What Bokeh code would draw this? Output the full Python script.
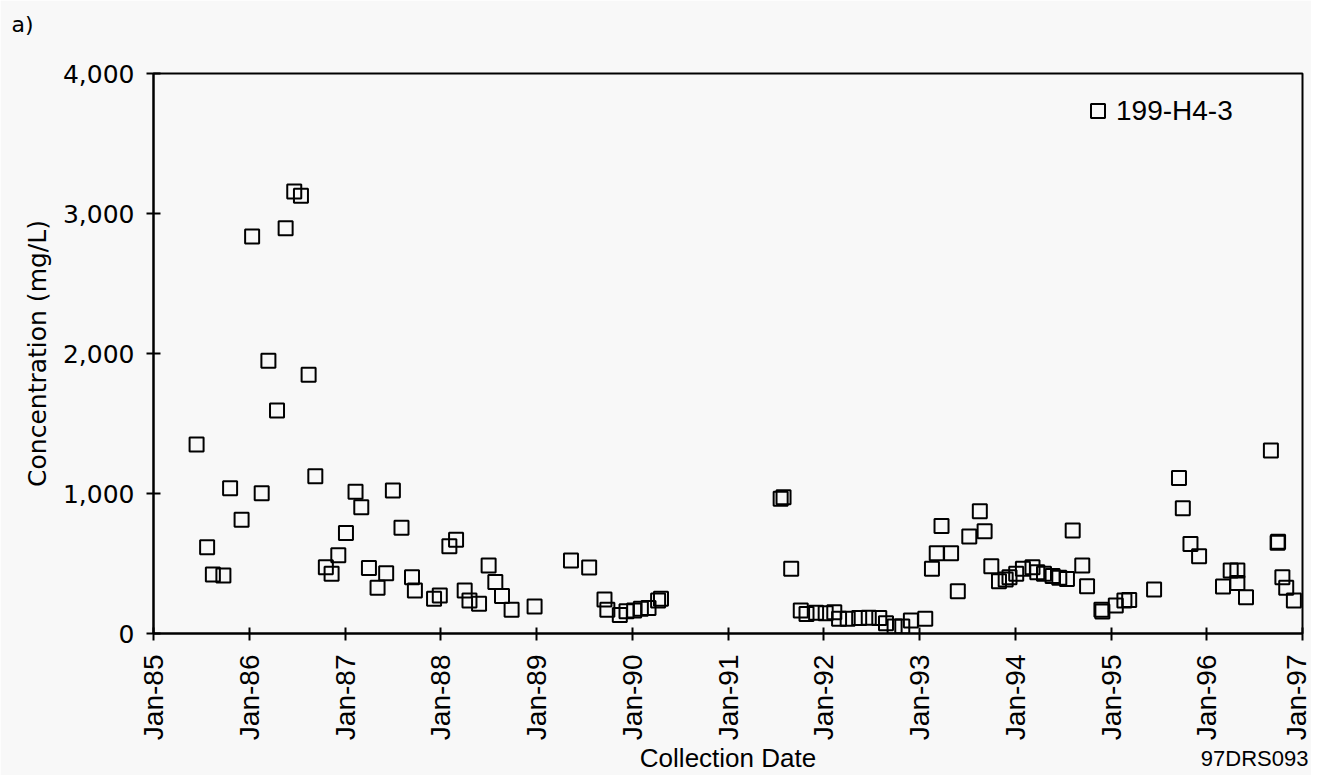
import math
from bokeh.plotting import figure
from bokeh.models import (ColumnDataSource, Range1d, FixedTicker, NumeralTickFormatter,
                          Legend, LegendItem, Title)
from bokeh.embed import file_html
from bokeh.resources import INLINE

# ---- data (decimal year of collection, concentration mg/L) ----
dates = [
    1985.45, 1985.56, 1985.62, 1985.73, 1985.80, 1985.92, 1986.03, 1986.13, 1986.20, 1986.29,
    1986.38, 1986.47, 1986.54, 1986.62, 1986.69, 1986.80, 1986.86, 1986.93, 1987.01, 1987.11,
    1987.17, 1987.25, 1987.34, 1987.43, 1987.50, 1987.59, 1987.70, 1987.73, 1987.93, 1987.99,
    1988.09, 1988.16, 1988.25, 1988.30, 1988.40, 1988.50, 1988.57, 1988.64, 1988.74, 1988.98,
    1989.36, 1989.55, 1989.71, 1989.74, 1989.87, 1989.94, 1990.02, 1990.09, 1990.17, 1990.27,
    1990.30, 1991.55, 1991.58, 1991.66, 1991.76, 1991.82, 1991.92, 1992.02, 1992.11, 1992.16,
    1992.25, 1992.37, 1992.47, 1992.58, 1992.65, 1992.74, 1992.82, 1992.91, 1993.06, 1993.13,
    1993.18, 1993.23, 1993.33, 1993.40, 1993.52, 1993.63, 1993.68, 1993.75, 1993.83, 1993.90,
    1993.94, 1994.01, 1994.08, 1994.18, 1994.23, 1994.30, 1994.39, 1994.46, 1994.54, 1994.60,
    1994.70, 1994.75, 1994.90, 1994.91, 1995.05, 1995.14, 1995.19, 1995.45, 1995.71, 1995.75,
    1995.83, 1995.92, 1996.17, 1996.25, 1996.32, 1996.32, 1996.41, 1996.67, 1996.74, 1996.745,
    1996.79, 1996.83, 1996.91,
]
concentration = [
    1350, 616, 421, 414, 1038, 812, 2836, 1002, 1948, 1593,
    2895, 3157, 3126, 1848, 1124, 474, 426, 559, 717, 1012,
    902, 467, 326, 431, 1021, 755, 402, 307, 248, 271,
    624, 669, 307, 236, 212, 486, 367, 267, 169, 193,
    521, 471, 243, 169, 133, 159, 164, 176, 183, 236,
    248, 962, 974, 462, 164, 140, 148, 145, 152, 105,
    105, 110, 112, 110, 74, 50, 50, 93, 105, 462,
    574, 767, 574, 302, 693, 874, 731, 481, 374, 385,
    402, 426, 462, 474, 438, 426, 410, 398, 390, 736,
    486, 338, 169, 157, 200, 236, 240, 314, 1110, 895,
    640, 552, 336, 450, 450, 360, 259, 1307, 648, 655,
    402, 326, 236,
]
series_name = "199-H4-3"
year_ticks = list(range(1985, 1998))
year_labels = ["Jan-85", "Jan-86", "Jan-87", "Jan-88", "Jan-89", "Jan-90", "Jan-91",
               "Jan-92", "Jan-93", "Jan-94", "Jan-95", "Jan-96", "Jan-97"]
y_ticks = [0, 1000, 2000, 3000, 4000]

BG = "#f8f8f8"

p = figure(frame_width=1149, frame_height=560, output_backend="svg", toolbar_location=None,
           x_range=Range1d(1985, 1997), y_range=Range1d(0, 4000),
           min_border_left=153, min_border_right=9, min_border_top=73, min_border_bottom=142,
           background_fill_color=BG, border_fill_color=BG)
p.grid.visible = False
p.outline_line_color = "black"
p.outline_line_width = 2

src = ColumnDataSource(dict(x=dates, y=concentration))
r = p.scatter("x", "y", source=src, marker="square", size=14, fill_color=None,
              line_color="black", line_width=2)

# x axis
xa = p.xaxis[0]
xa.ticker = FixedTicker(ticks=year_ticks)
xa.major_label_overrides = {t: l for t, l in zip(year_ticks, year_labels)}
xa.major_label_orientation = math.pi / 2
xa.major_label_text_font = "Liberation Sans"
xa.major_label_text_font_size = "28px"
xa.major_label_text_color = "black"
xa.major_label_standoff = 14
xa.major_tick_in = 6
xa.major_tick_out = 7
xa.minor_tick_in = 0
xa.minor_tick_out = 0
xa.axis_line_width = 2
xa.major_tick_line_width = 2
xa.axis_label = "Collection Date"
xa.axis_label_text_font = "Liberation Sans"
xa.axis_label_text_font_size = "26px"
xa.axis_label_text_font_style = "normal"
xa.axis_label_text_color = "black"
xa.axis_label_standoff = 0

# y axis
ya = p.yaxis[0]
ya.ticker = FixedTicker(ticks=y_ticks)
ya.formatter = NumeralTickFormatter(format="0,0")
ya.major_label_text_font = "DejaVu Sans"
ya.major_label_text_font_size = "25px"
ya.major_label_text_color = "black"
ya.major_label_standoff = 12
ya.major_tick_in = 7
ya.major_tick_out = 7
ya.minor_tick_in = 0
ya.minor_tick_out = 0
ya.axis_line_width = 2
ya.major_tick_line_width = 2
ya.axis_label = "Concentration (mg/L)"
ya.axis_label_text_font = "DejaVu Sans"
ya.axis_label_text_font_size = "25px"
ya.axis_label_text_font_style = "normal"
ya.axis_label_text_color = "black"
ya.axis_label_standoff = 8

# legend
legend = Legend(items=[LegendItem(label=series_name, renderers=[r])],
                location=(927, 505), border_line_alpha=0, background_fill_alpha=0,
                padding=0, margin=0, glyph_width=35, glyph_height=35, label_standoff=1,
                label_text_font="Liberation Sans", label_text_font_size="28px",
                label_text_color="black")
p.add_layout(legend)

# panel tag (top-left)
tag = Title(text="a)\n\u00a0", align="left", vertical_align="top", offset=-142, standoff=19,
            text_font="DejaVu Sans", text_font_size="22px", text_font_style="normal",
            text_color="black")
p.add_layout(tag, "above")

# figure code (bottom-right, on the axis-title line)
code = Title(text="97DRS093", align="right", vertical_align="top", offset=-6, standoff=-62,
             text_font="Liberation Sans", text_font_size="22px", text_font_style="normal",
             text_color="black")
p.add_layout(code, "below")

open("out.html", "w").write(file_html(p, INLINE))
